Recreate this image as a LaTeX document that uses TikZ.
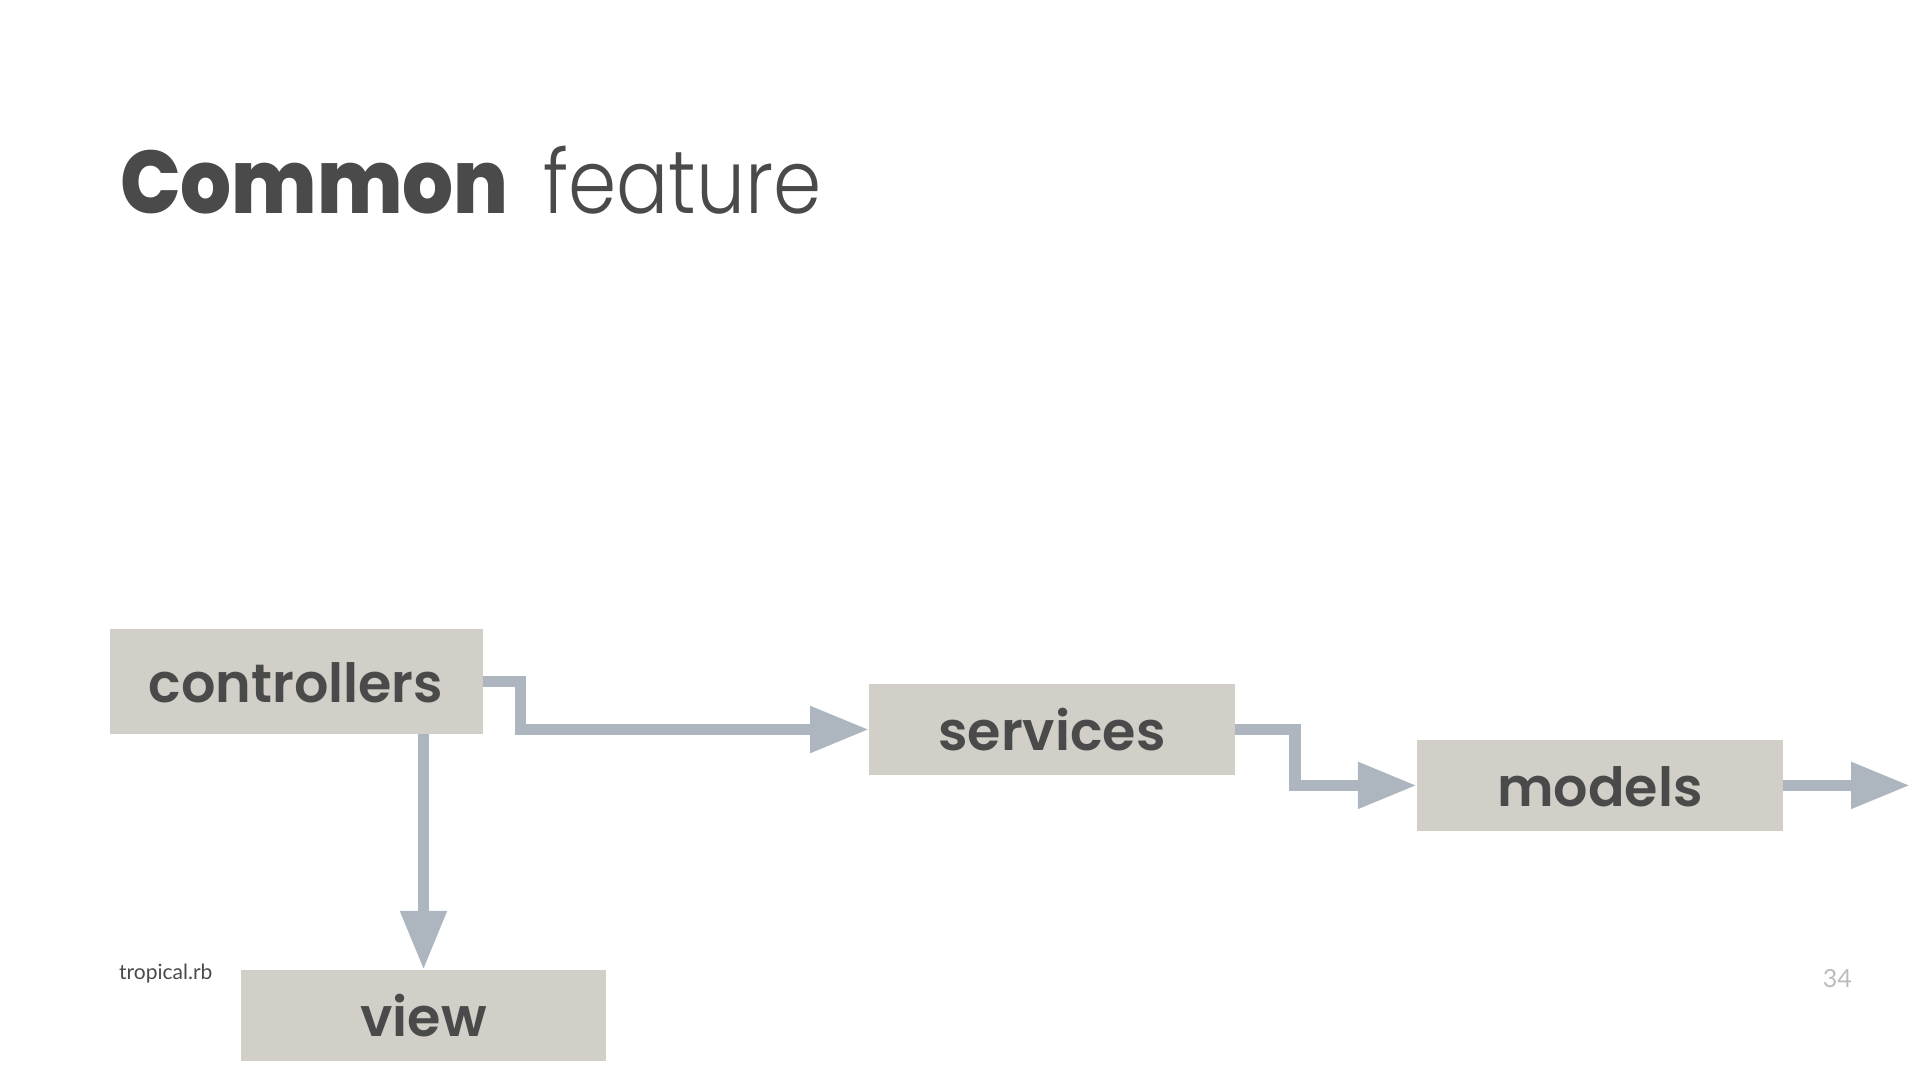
\documentclass[tikz,border=0pt]{standalone}
\usepackage{fontspec}
\usetikzlibrary{arrows.meta}
\setmainfont{Lato}
\newfontfamily\titleB{Poppins ExtraBold}
\newfontfamily\titleL{Poppins Light}
\newfontfamily\boxfont{Poppins SemiBold}
\definecolor{txt}{HTML}{4A4A4A}
\definecolor{boxfill}{HTML}{D2CFC8}
\definecolor{arrowc}{HTML}{ADB6BF}
\definecolor{pagenum}{HTML}{BBBBBB}
\tikzset{
  layer/.style={fill=boxfill, draw=none, inner sep=0pt, text=txt,
    font=\boxfont\fontsize{54pt}{54pt}\selectfont,
    text height=42pt, text depth=0pt},
  flow/.style={draw=arrowc, line width=11.5pt, line join=miter,
    -{Triangle[length=59pt,width=44pt]}}
}
\begin{document}
\begin{tikzpicture}[x=1pt,y=-1pt]
\useasboundingbox (0,0) rectangle (1920,1080);
% title
\node[anchor=base west, inner sep=0pt, text=txt, font=\titleB\fontsize{89pt}{89pt}\selectfont] (t1) at (120,213) {\scalebox{0.9}[1]{Common}};
\node[anchor=base west, inner sep=0pt, text=txt, font=\titleL\fontsize{89pt}{89pt}\selectfont] (t2) at (543,213) {\scalebox{0.87}[1]{feature}};
% boxes
\node[layer, minimum width=373pt, minimum height=105pt] (ctrl) at (296,681.5) {controllers};
\node[layer, minimum width=365.5pt, minimum height=91pt] (serv) at (1052,729.5) {services};
\node[layer, minimum width=366pt, minimum height=91pt] (models) at (1600,785.4) {models};
\node[layer, minimum width=365.5pt, minimum height=91pt] (view) at (423.5,1015.5) {view};
\coordinate (out) at (1910,785.4);
% connectors
\draw[flow] (ctrl.east) -- ++(38,0) |- (serv.west);
\draw[flow] (serv.east) -- ++(60,0) |- (models.west);
\draw[flow] (models.east) -- (out);
\draw[flow] (view.north |- ctrl.south) -- (view.north);
% footer
\node[anchor=base west, inner sep=0pt, text=txt, font=\fontsize{21pt}{21pt}\selectfont] (foot) at (119,979) {tropical.rb};
\node[anchor=base east, inner sep=0pt, text=pagenum, font=\fontsize{25pt}{25pt}\selectfont] (num) at (1852,987) {34};
\end{tikzpicture}
\end{document}
